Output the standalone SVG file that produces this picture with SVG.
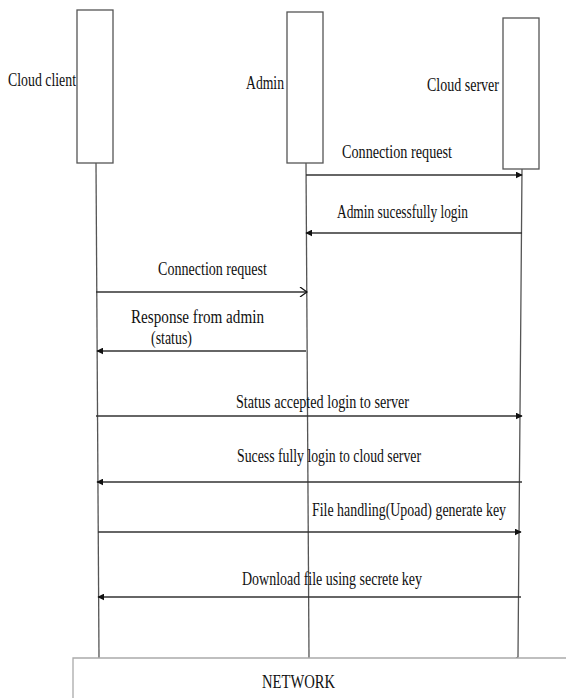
<svg xmlns="http://www.w3.org/2000/svg" width="566" height="698" viewBox="0 0 566 698">
<style>
text{font-family:"Liberation Serif","Times New Roman",serif;font-size:18px;fill:#111}
.box{fill:#fff;stroke:#555;stroke-width:1.3}
.life{stroke:#555;stroke-width:1.3;fill:none}
.msg{stroke:#333;stroke-width:1.5;fill:none}
</style>
<defs>
<marker id="fh" viewBox="0 0 10 10" refX="9" refY="5" markerWidth="7" markerHeight="7" markerUnits="userSpaceOnUse" orient="auto">
<path d="M0,0 L10,5 L0,10 z" fill="#111"/>
</marker>
<marker id="oh" viewBox="0 0 10 10" refX="9" refY="5" markerWidth="10" markerHeight="10" markerUnits="userSpaceOnUse" orient="auto">
<path d="M2,0 L9,5 L2,10" fill="none" stroke="#111" stroke-width="1.3"/>
</marker>
</defs>
<rect x="0" y="0" width="566" height="698" fill="#fff"/>
<g id="client">
<rect class="box" x="77" y="10" width="36" height="153"/>
<line class="life" x1="96" y1="163" x2="99" y2="658"/>
<text x="8" y="86" textLength="68" lengthAdjust="spacingAndGlyphs">Cloud client</text>
</g>
<g id="admin">
<rect class="box" x="287" y="12" width="36" height="151"/>
<line class="life" x1="306" y1="163" x2="309" y2="658"/>
<text x="246" y="89" textLength="38" lengthAdjust="spacingAndGlyphs">Admin</text>
</g>
<g id="server">
<rect class="box" x="503" y="18" width="36" height="151"/>
<path class="life" d="M522,169 L518,657 L516,658"/>
<text x="427" y="91" textLength="72" lengthAdjust="spacingAndGlyphs">Cloud server</text>
</g>
<g id="network">
<path d="M73,698 L73,658 L566,658" fill="#fff" stroke="#aaa" stroke-width="1.3"/>
<text x="262" y="688" textLength="73" lengthAdjust="spacingAndGlyphs">NETWORK</text>
</g>
<g id="connectors">
<line class="msg" x1="306" y1="175" x2="522" y2="175" marker-end="url(#fh)"/>
<line class="msg" x1="522" y1="233" x2="306" y2="233" marker-end="url(#fh)"/>
<line class="msg" x1="96" y1="292" x2="307" y2="292" marker-end="url(#oh)"/>
<line class="msg" x1="306" y1="351" x2="97" y2="351" marker-end="url(#fh)"/>
<line class="msg" x1="96" y1="416" x2="522" y2="416" marker-end="url(#fh)"/>
<line class="msg" x1="522" y1="482" x2="97" y2="482" marker-end="url(#fh)"/>
<line class="msg" x1="98" y1="532" x2="521" y2="532" marker-end="url(#fh)"/>
<line class="msg" x1="521" y1="597" x2="98" y2="597" marker-end="url(#fh)"/>
</g>
<g id="labels">
<text x="342" y="158" textLength="110" lengthAdjust="spacingAndGlyphs">Connection request</text>
<text x="337" y="218" textLength="131" lengthAdjust="spacingAndGlyphs">Admin sucessfully login</text>
<text x="158" y="275" textLength="109" lengthAdjust="spacingAndGlyphs">Connection request</text>
<text x="131" y="323" textLength="133" lengthAdjust="spacingAndGlyphs">Response from admin</text>
<text x="151" y="344" textLength="41" lengthAdjust="spacingAndGlyphs">(status)</text>
<text x="236" y="408" textLength="173" lengthAdjust="spacingAndGlyphs">Status accepted login to server</text>
<text x="237" y="462" textLength="184" lengthAdjust="spacingAndGlyphs">Sucess fully login to cloud server</text>
<text x="312" y="516" textLength="194" lengthAdjust="spacingAndGlyphs">File handling(Upoad) generate key</text>
<text x="242" y="585" textLength="180" lengthAdjust="spacingAndGlyphs">Download file using secrete key</text>
</g>
</svg>
